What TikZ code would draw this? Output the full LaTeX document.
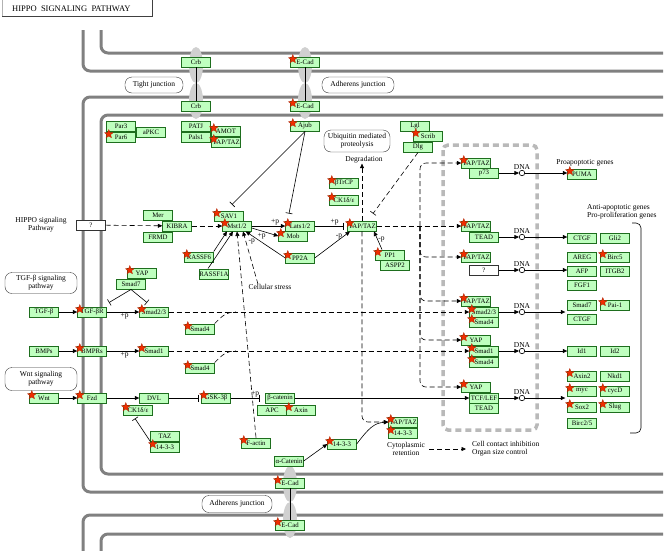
\documentclass[tikz,border=0pt]{standalone}
\usepackage{fontspec}
\setmainfont{Liberation Serif}
\usetikzlibrary{arrows.meta,positioning,shapes.geometric}
\definecolor{KgFill}{RGB}{191,255,191}
\definecolor{KgLine}{RGB}{30,110,30}
\definecolor{KgMemb}{RGB}{128,128,128}
\definecolor{KgEll}{RGB}{208,208,208}
\definecolor{KgStar}{RGB}{240,45,0}
\definecolor{KgNuc}{RGB}{185,185,185}
\tikzset{
  kg/gene/.style={
    draw=KgLine,
    fill=KgFill,
    minimum width=29pt,
    minimum height=10.5pt,
    inner sep=0pt,
    font=\fontsize{6.8}{7.5}\selectfont
  },
  kg/unknown/.style={kg/gene, draw=black!80, fill=white},
  kg/hit/.style={star, star points=5, star point ratio=2.3, fill=KgStar, draw=KgStar!70!black, line width=0.3pt, minimum size=9pt, inner sep=0pt},
  kg/map/.style={draw=black!80, rounded corners=7pt, align=center, inner sep=1pt, font=\fontsize{7.5}{8}\selectfont},
  kg/text/.style={align=center, inner sep=0pt, font=\fontsize{7.5}{8}\selectfont},
  kg/title/.style={inner sep=0pt, font=\fontsize{8.5}{9}\selectfont},
  kg/plab/.style={inner sep=0.5pt, font=\fontsize{7.5}{8}\selectfont},
  kg/dna/.style={circle, draw=black, fill=white, minimum size=5.5pt, inner sep=0pt, line width=0.6pt},
  kg/memb/.style={draw=KgMemb, line width=3pt, rounded corners=7pt},
  kg/junc/.style={ellipse, fill=KgEll, minimum width=14pt, minimum height=36pt, inner sep=0pt},
  kg/nucl/.style={draw=KgNuc, line width=3.5pt, dash pattern=on 6pt off 4pt, rounded corners=5pt},
  kg/line/.style={line width=0.6pt},
  kg/act/.style={-{Triangle[length=4.5pt,width=4pt]}, line width=0.6pt},
  kg/inh/.style={-{Bar[width=7pt]}, line width=0.6pt},
  kg/dashline/.style={line width=0.6pt, dash pattern=on 5pt off 3pt},
  kg/dashact/.style={kg/act, dash pattern=on 5pt off 3pt},
  kg/dashinh/.style={kg/inh, dash pattern=on 5pt off 3pt}
}

\begin{document}
\begin{tikzpicture}[x=1pt,y=-1pt]
  \useasboundingbox (0,0) rectangle (666,550);
  % title
  \node[kg/title, anchor=west] (title) at (12,9) {HIPPO\ \ SIGNALING\ \ PATHWAY};
  \draw[black!30] (2,0) -- (2,16);
  \draw[black!75, line width=0.8pt] (2,16) -- (152,16) -- (152,0);

  % membranes
  \draw[kg/memb] (101,30) |- (663,53);
  \draw[kg/memb] (83,30) |- (663,71);
  \draw[kg/memb] (663,97) -| (83,492) -- (663,492);
  \draw[kg/memb] (663,115) -| (101,474) -- (663,474);
  \draw[kg/memb] (663,515) -| (83,556);
  \draw[kg/memb] (663,534) -| (101,556);
  \node[kg/junc] (crbE1) at (196,65) {};
  \node[kg/junc] (crbE2) at (196,101) {};
  \node[kg/junc] (ecadE1) at (305,65) {};
  \node[kg/junc] (ecadE2) at (305,101) {};
  \node[kg/junc] (ecadE3) at (290,484) {};
  \node[kg/junc] (ecadE4) at (290,520) {};

  % nucleus
  \draw[kg/nucl] (443,145) rectangle (537,430);
  \draw[kg/line, rounded corners=5pt] (632,223) -- (641,223) -- (641,433) -- (630,433);

  % junctions
  \node[kg/gene] (crbA) at (196,62) {Crb};
  \node[kg/gene] (crbB) at (196,106) {Crb};
  \node[kg/gene] (ecadA) at (305,62) {E-Cad};
  \node[kg/gene] (ecadB) at (305,106) {E-Cad};
  \node[kg/map, minimum width=58pt, minimum height=16pt] (tight) at (154,85) {Tight junction};
  \node[kg/map, minimum width=72pt, minimum height=16pt] (adhA) at (358,85) {Adherens junction};

  % upstream
  \node[kg/gene] (par3) at (121,126) {Par3};
  \node[kg/gene] (par6) at (121,137) {Par6};
  \node[kg/gene] (apkc) at (151,132) {aPKC};
  \node[kg/gene] (patj) at (196,126) {PATJ};
  \node[kg/gene] (pals1) at (196,137) {Pals1};
  \node[kg/gene] (amot) at (226,131) {AMOT};
  \node[kg/gene] (yaptazA) at (226,142) {YAP/TAZ};
  \node[kg/gene] (ajub) at (305,126) {Ajub};
  \node[kg/gene] (lgl) at (415,126) {Lgl};
  \node[kg/gene] (scrib) at (428,136) {Scrib};
  \node[kg/gene] (dlg) at (418,147) {Dlg};
  \node[kg/map, minimum width=66pt, minimum height=22pt] (ubiq) at (357,141) {Ubiquitin mediated\\proteolysis};
  \node[kg/text] (degr) at (364,160) {Degradation};
  \node[kg/gene] (btrcp) at (344,183) {βTrCP};
  \node[kg/gene] (ck1a) at (344,200) {CK1δ/ε};

  % core kinase cassette
  \node[kg/text] (hippoTxt) at (41,225) {HIPPO signaling\\Pathway};
  \node[kg/unknown] (hippoQ) at (91,225) {?};
  \node[kg/gene] (mer) at (158,215) {Mer};
  \node[kg/gene] (kibra) at (177,226) {KIBRA};
  \node[kg/gene] (frmd) at (158,237) {FRMD};
  \node[kg/gene] (sav1) at (229,216) {SAV1};
  \node[kg/gene] (mst) at (237,226) {Mst1/2};
  \node[kg/gene] (lats) at (300,226) {Lats1/2};
  \node[kg/gene] (mob) at (293,236) {Mob};
  \node[kg/gene] (pp2a) at (300,258) {PP2A};
  \node[kg/gene] (yaptaz) at (362,226) {YAP/TAZ};
  \node[kg/gene] (pp1) at (390,255) {PP1};
  \node[kg/gene] (aspp2) at (395,265) {ASPP2};
  \node[kg/gene] (rassf6) at (199,257) {RASSF6};
  \node[kg/gene] (rassf1a) at (214,274) {RASSF1A};
  \node[kg/text] (stress) at (270,287) {Cellular stress};

  % TGF-beta / BMP / Wnt
  \node[kg/map, minimum width=72pt, minimum height=21pt] (tgfPath) at (41,283) {TGF-β signaling\\pathway};
  \node[kg/gene] (yapB) at (142,273) {YAP};
  \node[kg/gene] (smad7) at (131,284) {Smad7};
  \node[kg/gene] (tgfb) at (44,312) {TGF-β};
  \node[kg/gene] (tgfbr) at (92,312) {TGF-βR};
  \node[kg/gene] (smad23) at (154,312) {Smad2/3};
  \node[kg/gene] (smad4a) at (200,329) {Smad4};
  \node[kg/gene] (bmps) at (44,351) {BMPs};
  \node[kg/gene] (bmprs) at (92,351) {BMPRs};
  \node[kg/gene] (smad1) at (154,351) {Smad1};
  \node[kg/gene] (smad4b) at (200,368) {Smad4};
  \node[kg/map, minimum width=72pt, minimum height=23pt] (wntPath) at (41,379) {Wnt signaling\\pathway};
  \node[kg/gene] (wnt) at (44,398) {Wnt};
  \node[kg/gene] (fzd) at (92,398) {Fzd};
  \node[kg/gene] (dvl) at (154,398) {DVL};
  \node[kg/gene] (ck1b) at (138,410) {CK1δ/ε};
  \node[kg/gene] (taz) at (165,436) {TAZ};
  \node[kg/gene] (b1433a) at (165,447) {14-3-3};
  \node[kg/gene] (gsk) at (216,398) {GSK-3β};
  \node[kg/gene] (bcat) at (280,398) {β-catenin};
  \node[kg/gene] (apc) at (272,410) {APC};
  \node[kg/gene] (axin) at (301,410) {Axin};
  \node[kg/gene] (factin) at (256,443) {F-actin};
  \node[kg/gene] (acat) at (289,461) {α-Catenin};
  \node[kg/gene] (ecadC) at (290,483) {E-Cad};
  \node[kg/gene] (ecadD) at (290,525) {E-Cad};
  \node[kg/map, minimum width=70pt, minimum height=17pt] (adhB) at (237,504) {Adherens junction};
  \node[kg/gene] (b1433b) at (342,444) {14-3-3};
  \node[kg/gene] (yaptazC) at (403,422) {YAP/TAZ};
  \node[kg/gene] (b1433c) at (403,433) {14-3-3};
  \node[kg/text] (retn) at (406,449) {Cytoplasmic\\retention};
  \node[kg/text, anchor=west, align=left] (cci) at (472,449) {Cell contact inhibition\\Organ size control};

  % nuclear complexes and targets
  \node[kg/gene] (ytA) at (476,163) {YAP/TAZ};
  \node[kg/gene] (p73) at (484,173) {p73};
  \node[kg/dna, label={[kg/plab]above:DNA}] (dnaA) at (522,173) {};
  \node[kg/gene] (puma) at (582,174) {PUMA};
  \node[kg/text] (proapo) at (585,163) {Proapoptotic genes};
  \node[kg/text, anchor=west, align=left] (antiapo) at (587,212) {Anti-apoptotic genes\\Pro-proliferation genes};
  \node[kg/gene] (ytB) at (476,226) {YAP/TAZ};
  \node[kg/gene] (teadA) at (484,237) {TEAD};
  \node[kg/dna, label={[kg/plab]above:DNA}] (dnaB) at (522,237) {};
  \node[kg/gene] (ctgfA) at (582,238) {CTGF};
  \node[kg/gene] (gli2) at (615,238) {Gli2};
  \node[kg/gene] (ytC) at (476,257) {YAP/TAZ};
  \node[kg/unknown] (qbox) at (484,270) {?};
  \node[kg/dna, label={[kg/plab]above:DNA}] (dnaC) at (522,270) {};
  \node[kg/gene] (areg) at (582,257) {AREG};
  \node[kg/gene] (birc5) at (615,257) {Birc5};
  \node[kg/gene] (afp) at (582,271) {AFP};
  \node[kg/gene] (itgb2) at (615,271) {ITGB2};
  \node[kg/gene] (fgf1) at (582,285) {FGF1};
  \node[kg/gene] (ytD) at (476,301) {YAP/TAZ};
  \node[kg/gene] (smad23n) at (484,312) {Smad2/3};
  \node[kg/gene] (smad4n) at (484,322) {Smad4};
  \node[kg/dna, label={[kg/plab]above:DNA}] (dnaD) at (522,312) {};
  \node[kg/gene] (smad7n) at (582,305) {Smad7};
  \node[kg/gene] (pai1) at (615,305) {Pai-1};
  \node[kg/gene] (ctgfB) at (582,319) {CTGF};
  \node[kg/gene] (yapE) at (476,340) {YAP};
  \node[kg/gene] (smad1n) at (484,351) {Smad1};
  \node[kg/gene] (smad4m) at (484,362) {Smad4};
  \node[kg/dna, label={[kg/plab]above:DNA}] (dnaE) at (522,351) {};
  \node[kg/gene] (id1) at (582,351) {Id1};
  \node[kg/gene] (id2) at (615,351) {Id2};
  \node[kg/gene] (yapF) at (476,387) {YAP};
  \node[kg/gene] (tcf) at (484,398) {TCF/LEF};
  \node[kg/gene] (teadB) at (484,408) {TEAD};
  \node[kg/dna, label={[kg/plab]above:DNA}] (dnaF) at (522,398) {};
  \node[kg/gene] (axin2) at (582,376) {Axin2};
  \node[kg/gene] (nkd1) at (615,376) {Nkd1};
  \node[kg/gene] (myc) at (582,391) {myc};
  \node[kg/gene] (cycd) at (615,391) {cycD};
  \node[kg/gene] (sox2) at (582,407) {Sox2};
  \node[kg/gene] (slug) at (615,407) {Slug};
  \node[kg/gene] (birc25) at (582,423) {Birc2/5};

  \coordinate (jA) at (236,312);
  \coordinate (jB) at (236,351);
  \coordinate (trunk) at (420,226);

  % relations
  \draw[kg/line] (crbA) -- (crbB);
  \draw[kg/line] (ecadA) -- (ecadB);
  \draw[kg/line] (ecadC) -- (ecadD);
  \draw[kg/inh] (ajub.south) -- ([xshift=3pt,yshift=6pt]sav1.north);
  \draw[kg/inh] (ajub.south) -- ([xshift=-11pt,yshift=7pt]lats.north);
  \draw[kg/dashinh] (dlg.south) -- ([xshift=11pt,yshift=7pt]yaptaz.north);
  \draw[kg/dashact] (hippoQ) -- (kibra);
  \draw[kg/dashact] (kibra) -- (mst);
  \draw[kg/act] (mst) -- node[kg/plab, above, pos=0.7] {+p} (lats);
  \draw[kg/act] ([yshift=-2pt]mst.east) -- node[kg/plab, below left, pos=0.55] {+p} (mob.west);
  \draw[kg/act] (pp2a.west) -- node[kg/plab, below left, pos=0.75] {-p} ([xshift=-6pt]mst.south east);
  \draw[kg/inh] (lats) -- node[kg/plab, above, pos=0.7] {+p} ([xshift=-4pt]yaptaz.west);
  \draw[kg/act] (pp2a.east) -- node[kg/plab, left, pos=0.8] {-p} ([xshift=-12pt]yaptaz.south);
  \draw[kg/act] ([xshift=-8pt]pp1.north) -- node[kg/plab, right, pos=0.55] {-p} ([xshift=12pt]yaptaz.south);
  \draw[kg/dashact] (yaptaz.north) -- ([xshift=-2pt]degr.south);
  \draw[kg/act] (rassf6.north east) -- ([xshift=-10pt]mst.south);
  \draw[kg/act] ([xshift=-6pt]rassf1a.north) -- ([xshift=-4pt]mst.south);
  \draw[kg/dashact] (factin.north) -- ([xshift=0pt]mst.south);
  \draw[kg/dashact] ([xshift=-12pt]stress.north) -- ([xshift=6pt]mst.south);

  \draw[kg/act] (tgfb) -- (tgfbr);
  \draw[kg/act] (tgfbr) -- node[kg/plab, below, pos=0.55] {+p} (smad23);
  \draw[kg/inh] (smad7.south) -- ([xshift=17pt,yshift=4pt]tgfbr.north);
  \draw[kg/inh] (smad7.south) -- ([xshift=-7pt,yshift=4pt]smad23.north);
  \draw[kg/dashact] (smad23) -- (smad23n);
  \draw[kg/dashline] (smad4a.north east) .. controls +(8,-8) and +(-10,0) .. (jA);
  \draw[kg/act] (bmps) -- (bmprs);
  \draw[kg/act] (bmprs) -- node[kg/plab, below, pos=0.55] {+p} (smad1);
  \draw[kg/dashact] (smad1) -- (smad1n);
  \draw[kg/dashline] (smad4b.north east) .. controls +(8,-8) and +(-10,0) .. (jB);
  \draw[kg/act] (wnt) -- (fzd);
  \draw[kg/act] (fzd) -- (dvl);
  \draw[kg/inh] (dvl) -- ([xshift=-3pt]gsk.west);
  \draw[kg/inh] (gsk) -- node[kg/plab, above, pos=0.85] {+p} ([xshift=-6pt]bcat.west);
  \draw[kg/inh] (taz.south west) -- ([xshift=-3pt,yshift=-3pt]ck1b.south);
  \draw[kg/act] (bcat) -- (tcf);
  \draw[kg/act] (acat.east) -- (b1433b.west);
  \draw[kg/act] (b1433b.east) .. controls +(12,-16) and +(-14,1) .. (yaptazC.west);
  \draw[kg/dashact, rounded corners=6pt] (yaptaz.south) |- (yaptazC.west);
  \draw[kg/dashact] ([xshift=4pt]retn.east) -- ([xshift=-6pt]cci.west);

  \draw[kg/dashact] (yaptaz) -- (ytB);
  \foreach \t in {ytA,ytC,ytD,yapE,yapF}
    \draw[kg/dashact, rounded corners=6pt] (trunk) |- (\t.west);
  \draw[kg/act] (p73) -- (dnaA);
  \draw[kg/act] (dnaA) -- (dnaA -| puma.west);
  \draw[kg/act] (teadA) -- (dnaB);
  \draw[kg/act] (dnaB) -- (dnaB -| ctgfA.west);
  \draw[kg/act] (qbox) -- (dnaC);
  \draw[kg/act] (dnaC) -- (dnaC -| afp.west);
  \draw[kg/act] (smad23n) -- (dnaD);
  \draw[kg/act] (dnaD) -- ([xshift=-2pt]dnaD -| smad7n.west);
  \draw[kg/act] (smad1n) -- (dnaE);
  \draw[kg/act] (dnaE) -- (dnaE -| id1.west);
  \draw[kg/act] (tcf) -- (dnaF);
  \draw[kg/act] (dnaF) -- ([xshift=-2pt]dnaF -| myc.west);

  % hits
  \foreach \g in {ecadA,ecadB,par6,amot,yaptazA,ajub,scrib,btrcp,ck1a,sav1,mst,lats,mob,pp2a,yaptaz,pp1,rassf6,
                  yapB,tgfbr,smad23,smad4a,bmprs,smad1,smad4b,wnt,fzd,ck1b,b1433a,gsk,axin,factin,ecadC,ecadD,
                  b1433b,yaptazC,b1433c,ytA,puma,ytB,ytC,birc5,ytD,smad23n,smad4n,pai1,yapE,smad1n,smad4m,yapF,
                  axin2,myc,cycd,sox2,slug}
    \node[kg/hit] (\g-hit) at ([xshift=2.5pt,yshift=-2.5pt]\g.north west) {};
\end{tikzpicture}
\end{document}
